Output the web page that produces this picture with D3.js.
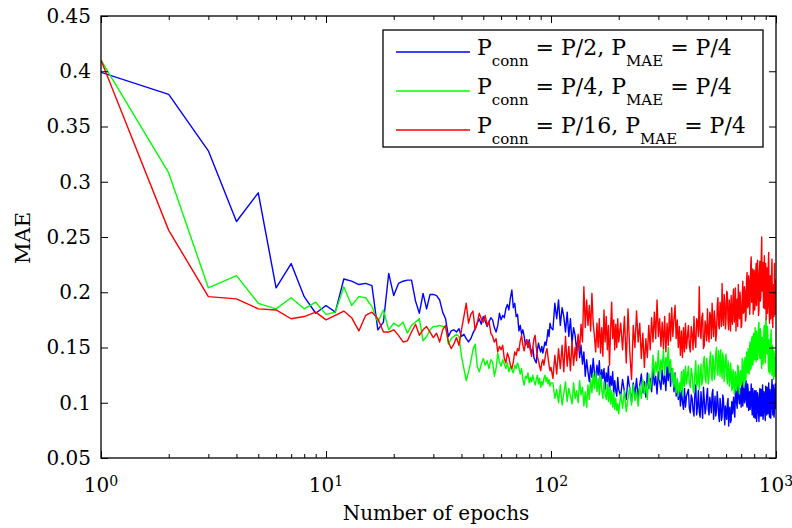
<!DOCTYPE html>
<html>
<head>
<meta charset="utf-8">
<script src="https://cdn.jsdelivr.net/npm/d3@7"></script>
<style>
  html, body { margin: 0; padding: 0; background: #fff; }
  svg { display: block; }
</style>
</head>
<body>
<svg id="chart" width="792" height="528"></svg>
<script>
// Sampled epochs: every epoch up to 100, then coarser steps on the log axis
const epochs = [
  ...d3.range(1, 101),
  ...d3.range(102, 201, 2),
  ...d3.range(204, 401, 4),
  ...d3.range(408, 1001, 4)
];

// MAE for P_conn = P/2
const maeConnHalf = [
  0.399, 0.379, 0.328, 0.264, 0.290, 0.204, 0.226, 0.196, 0.181, 0.188,
  0.182, 0.212, 0.210, 0.207, 0.208, 0.206, 0.166, 0.173, 0.217, 0.197,
  0.208, 0.210, 0.211, 0.211, 0.192, 0.181, 0.199, 0.185, 0.198, 0.198,
  0.197, 0.193, 0.182, 0.176, 0.160, 0.165, 0.166, 0.164, 0.167, 0.160,
  0.162, 0.158, 0.155, 0.158, 0.163, 0.167, 0.172, 0.176, 0.171, 0.178,
  0.174, 0.169, 0.173, 0.177, 0.175, 0.168, 0.164, 0.170, 0.181, 0.175,
  0.179, 0.177, 0.185, 0.189, 0.184, 0.195, 0.202, 0.186, 0.190, 0.178,
  0.180, 0.165, 0.170, 0.162, 0.166, 0.160, 0.152, 0.157, 0.150, 0.157,
  0.149, 0.145, 0.150, 0.141, 0.138, 0.136, 0.148, 0.154, 0.149, 0.146,
  0.151, 0.145, 0.150, 0.155, 0.152, 0.158, 0.166, 0.160, 0.172, 0.168,
  // 102..200
  0.166, 0.190, 0.176, 0.193, 0.170, 0.186, 0.178, 0.164, 0.182, 0.160,
  0.176, 0.154, 0.168, 0.161, 0.147, 0.160, 0.141, 0.152, 0.135, 0.146,
  0.124, 0.139, 0.128, 0.119, 0.134, 0.123, 0.140, 0.127, 0.119, 0.134,
  0.125, 0.138, 0.116, 0.130, 0.122, 0.131, 0.112, 0.127, 0.119, 0.133,
  0.110, 0.124, 0.116, 0.128, 0.108, 0.120, 0.111, 0.106, 0.123, 0.112,
  // 204..400
  0.106, 0.121, 0.110, 0.103, 0.124, 0.112, 0.101, 0.118, 0.107, 0.122,
  0.104, 0.116, 0.126, 0.109, 0.119, 0.105, 0.127, 0.113, 0.122, 0.110,
  0.131, 0.116, 0.124, 0.108, 0.128, 0.119, 0.112, 0.130, 0.117, 0.125,
  0.111, 0.133, 0.120, 0.137, 0.115, 0.131, 0.124, 0.110, 0.127, 0.106,
  0.118, 0.103, 0.115, 0.097, 0.111, 0.101, 0.094, 0.113, 0.096, 0.106,
  // 408..1000
  0.112, 0.095, 0.091, 0.107, 0.104, 0.093, 0.088, 0.109, 0.116, 0.089,
  0.097, 0.111, 0.092, 0.087, 0.110, 0.098, 0.086, 0.114, 0.103, 0.090,
  0.095, 0.106, 0.113, 0.094, 0.089, 0.105, 0.099, 0.091, 0.108, 0.112,
  0.085, 0.096, 0.106, 0.088, 0.093, 0.110, 0.101, 0.089, 0.083, 0.104,
  0.098, 0.084, 0.087, 0.107, 0.103, 0.091, 0.080, 0.097, 0.092, 0.085,
  0.099, 0.104, 0.079, 0.094, 0.096, 0.082, 0.084, 0.101, 0.090, 0.097,
  0.105, 0.092, 0.087, 0.109, 0.112, 0.100, 0.095, 0.116, 0.118, 0.103,
  0.099, 0.113, 0.108, 0.096, 0.122, 0.106, 0.097, 0.119, 0.115, 0.100,
  0.102, 0.114, 0.120, 0.099, 0.096, 0.117, 0.112, 0.093, 0.104, 0.110,
  0.094, 0.106, 0.117, 0.098, 0.089, 0.113, 0.108, 0.087, 0.099, 0.111,
  0.086, 0.097, 0.111, 0.083, 0.092, 0.109, 0.104, 0.090, 0.083, 0.106,
  0.113, 0.088, 0.095, 0.112, 0.088, 0.101, 0.116, 0.085, 0.091, 0.110,
  0.107, 0.093, 0.084, 0.115, 0.101, 0.089, 0.114, 0.096, 0.090, 0.108,
  0.118, 0.094, 0.087, 0.112, 0.105, 0.086, 0.096, 0.113, 0.121, 0.098,
  0.089, 0.116, 0.110, 0.087, 0.093, 0.111, 0.117, 0.095, 0.100
];

// MAE for P_conn = P/4
const maeConnQuarter = [
  0.410, 0.308, 0.204, 0.215, 0.190, 0.185, 0.195, 0.185, 0.191, 0.180,
  0.182, 0.205, 0.188, 0.196, 0.195, 0.187, 0.173, 0.184, 0.166, 0.172,
  0.169, 0.173, 0.163, 0.170, 0.173, 0.176, 0.156, 0.160, 0.166, 0.169,
  0.169, 0.170, 0.169, 0.168, 0.153, 0.158, 0.160, 0.162, 0.160, 0.142,
  0.131, 0.120, 0.128, 0.137, 0.148, 0.153, 0.133, 0.128, 0.135, 0.140,
  0.134, 0.138, 0.131, 0.139, 0.137, 0.124, 0.131, 0.145, 0.137, 0.133,
  0.139, 0.135, 0.131, 0.136, 0.128, 0.133, 0.130, 0.127, 0.134, 0.131,
  0.136, 0.132, 0.126, 0.131, 0.121, 0.116, 0.124, 0.122, 0.127, 0.118,
  0.123, 0.119, 0.125, 0.120, 0.116, 0.121, 0.125, 0.117, 0.122, 0.114,
  0.119, 0.116, 0.122, 0.125, 0.119, 0.123, 0.117, 0.121, 0.115, 0.118,
  // 102..200
  0.118, 0.104, 0.112, 0.100, 0.116, 0.098, 0.108, 0.119, 0.101, 0.113,
  0.106, 0.099, 0.118, 0.104, 0.111, 0.100, 0.120, 0.107, 0.114, 0.097,
  0.110, 0.096, 0.116, 0.103, 0.121, 0.109, 0.126, 0.113, 0.128, 0.110,
  0.122, 0.107, 0.125, 0.112, 0.104, 0.119, 0.108, 0.103, 0.117, 0.101,
  0.114, 0.099, 0.111, 0.096, 0.109, 0.094, 0.104, 0.093, 0.099, 0.090,
  // 204..400
  0.108, 0.095, 0.111, 0.092, 0.104, 0.114, 0.098, 0.116, 0.102, 0.110,
  0.097, 0.115, 0.104, 0.121, 0.108, 0.118, 0.103, 0.126, 0.112, 0.120,
  0.143, 0.124, 0.137, 0.128, 0.147, 0.121, 0.139, 0.130, 0.148, 0.125,
  0.141, 0.133, 0.150, 0.127, 0.139, 0.120, 0.131, 0.114, 0.126, 0.109,
  0.122, 0.106, 0.118, 0.110, 0.128, 0.107, 0.130, 0.115, 0.133, 0.117,
  // 408..1000
  0.133, 0.118, 0.114, 0.131, 0.126, 0.112, 0.109, 0.127, 0.138, 0.115,
  0.119, 0.134, 0.112, 0.124, 0.135, 0.116, 0.121, 0.137, 0.142, 0.123,
  0.118, 0.140, 0.131, 0.117, 0.124, 0.139, 0.146, 0.125, 0.120, 0.143,
  0.137, 0.121, 0.127, 0.145, 0.150, 0.129, 0.125, 0.147, 0.141, 0.124,
  0.148, 0.131, 0.122, 0.145, 0.139, 0.119, 0.128, 0.141, 0.144, 0.123,
  0.117, 0.138, 0.133, 0.115, 0.120, 0.136, 0.129, 0.111, 0.113, 0.130,
  0.127, 0.108, 0.110, 0.128, 0.124, 0.111, 0.115, 0.134, 0.132, 0.113,
  0.108, 0.127, 0.129, 0.116, 0.119, 0.140, 0.137, 0.118, 0.114, 0.136,
  0.141, 0.120, 0.123, 0.146, 0.136, 0.127, 0.149, 0.131, 0.126, 0.152,
  0.155, 0.130, 0.133, 0.158, 0.160, 0.134, 0.138, 0.163, 0.152, 0.139,
  0.168, 0.148, 0.137, 0.165, 0.158, 0.139, 0.145, 0.170, 0.173, 0.146,
  0.140, 0.167, 0.162, 0.138, 0.131, 0.159, 0.156, 0.135, 0.147, 0.168,
  0.170, 0.141, 0.136, 0.172, 0.176, 0.148, 0.144, 0.169, 0.161, 0.135,
  0.128, 0.157, 0.153, 0.126, 0.132, 0.161, 0.166, 0.139, 0.125, 0.152,
  0.149, 0.127, 0.121, 0.147, 0.143, 0.124, 0.130, 0.141, 0.135
];

// MAE for P_conn = P/16
const maeConnSixteenth = [
  0.410, 0.256, 0.196, 0.194, 0.185, 0.184, 0.176, 0.178, 0.182, 0.175,
  0.179, 0.183, 0.177, 0.165, 0.179, 0.182, 0.176, 0.164, 0.164, 0.166,
  0.161, 0.155, 0.156, 0.164, 0.171, 0.161, 0.166, 0.169, 0.164, 0.159,
  0.163, 0.155, 0.166, 0.170, 0.155, 0.149, 0.153, 0.159, 0.152, 0.166,
  0.178, 0.190, 0.172, 0.180, 0.183, 0.166, 0.172, 0.181, 0.176, 0.173,
  0.179, 0.170, 0.174, 0.163, 0.160, 0.155, 0.158, 0.146, 0.151, 0.148,
  0.152, 0.140, 0.136, 0.145, 0.141, 0.134, 0.131, 0.137, 0.146, 0.143,
  0.149, 0.147, 0.156, 0.161, 0.152, 0.147, 0.154, 0.157, 0.150, 0.155,
  0.147, 0.142, 0.150, 0.158, 0.161, 0.150, 0.142, 0.138, 0.133, 0.129,
  0.136, 0.139, 0.134, 0.140, 0.146, 0.149, 0.141, 0.134, 0.129, 0.132,
  // 102..200
  0.122, 0.143, 0.126, 0.149, 0.131, 0.152, 0.128, 0.160, 0.133, 0.151,
  0.129, 0.156, 0.134, 0.150, 0.138, 0.162, 0.147, 0.171, 0.155, 0.205,
  0.168, 0.193, 0.170, 0.188, 0.165, 0.199, 0.172, 0.160, 0.146, 0.172,
  0.150, 0.176, 0.145, 0.168, 0.142, 0.184, 0.155, 0.178, 0.148, 0.170,
  0.134, 0.166, 0.191, 0.158, 0.175, 0.148, 0.171, 0.150, 0.176, 0.155,
  // 204..400
  0.172, 0.148, 0.178, 0.136, 0.185, 0.146, 0.121, 0.170, 0.150, 0.183,
  0.155, 0.172, 0.140, 0.163, 0.132, 0.158, 0.141, 0.170, 0.148, 0.177,
  0.155, 0.182, 0.158, 0.193, 0.160, 0.176, 0.151, 0.173, 0.149, 0.178,
  0.146, 0.172, 0.152, 0.181, 0.156, 0.186, 0.160, 0.176, 0.188, 0.158,
  0.175, 0.150, 0.169, 0.143, 0.165, 0.141, 0.168, 0.146, 0.172, 0.149,
  // 408..1000
  0.170, 0.152, 0.146, 0.169, 0.162, 0.148, 0.178, 0.157, 0.150, 0.176,
  0.173, 0.160, 0.205, 0.166, 0.158, 0.177, 0.181, 0.149, 0.152, 0.174,
  0.168, 0.156, 0.185, 0.163, 0.155, 0.182, 0.179, 0.158, 0.190, 0.171,
  0.160, 0.183, 0.174, 0.156, 0.163, 0.188, 0.195, 0.170, 0.167, 0.191,
  0.186, 0.169, 0.208, 0.178, 0.170, 0.198, 0.192, 0.167, 0.176, 0.201,
  0.199, 0.174, 0.166, 0.193, 0.184, 0.165, 0.197, 0.179, 0.171, 0.195,
  0.203, 0.173, 0.180, 0.204, 0.165, 0.187, 0.194, 0.169, 0.207, 0.185,
  0.176, 0.200, 0.190, 0.168, 0.170, 0.196, 0.210, 0.181, 0.182, 0.205,
  0.201, 0.174, 0.178, 0.211, 0.218, 0.186, 0.188, 0.215, 0.209, 0.180,
  0.195, 0.224, 0.232, 0.191, 0.198, 0.221, 0.180, 0.205, 0.220, 0.184,
  0.190, 0.217, 0.226, 0.188, 0.200, 0.229, 0.214, 0.179, 0.184, 0.219,
  0.228, 0.192, 0.196, 0.231, 0.250, 0.201, 0.205, 0.227, 0.186, 0.212,
  0.233, 0.185, 0.199, 0.226, 0.175, 0.210, 0.222, 0.181, 0.191, 0.224,
  0.236, 0.187, 0.172, 0.213, 0.215, 0.176, 0.183, 0.219, 0.230, 0.174,
  0.168, 0.203, 0.207, 0.178, 0.226, 0.193, 0.180, 0.211, 0.196
];

const seriesNames = ["P/2", "P/4", "P/16"];
const seriesColors = ["#0000ff", "#00ff00", "#ff0000"];
const seriesValues = [maeConnHalf, maeConnQuarter, maeConnSixteenth];

const yTicks = [0.05, 0.1, 0.15, 0.2, 0.25, 0.3, 0.35, 0.4, 0.45];
const xMajorTicks = [1, 10, 100, 1000];
const xExponents = ["0", "1", "2", "3"];

const FONT = '"DejaVu Serif", serif';

const svg = d3.select("#chart");
const plot = { left: 101, top: 16, right: 776, bottom: 458 };

const x = d3.scaleLog().domain([1, 1000]).range([plot.left, plot.right]);
const y = d3.scaleLinear().domain([0.05, 0.45]).range([plot.bottom, plot.top]);

// Data lines
const line = d3.line()
  .x((d, i) => x(epochs[i]))
  .y(d => y(d));

svg.append("clipPath").attr("id", "plot-clip")
  .append("rect")
  .attr("x", plot.left).attr("y", plot.top)
  .attr("width", plot.right - plot.left).attr("height", plot.bottom - plot.top);

const lines = svg.append("g").attr("clip-path", "url(#plot-clip)");
seriesValues.forEach((vals, k) => {
  lines.append("path")
    .datum(vals)
    .attr("fill", "none")
    .attr("stroke", seriesColors[k])
    .attr("stroke-width", 1.4)
    .attr("stroke-linejoin", "round")
    .attr("d", line);
});

// Axes: box with inward ticks on all four sides
const minorTicks = [];
[1, 10, 100].forEach(dec => { for (let m = 2; m <= 9; m++) minorTicks.push(dec * m); });

const majorLen = 7, minorLen = 4;
const fmtY = d => String(+d.toFixed(2));

const xBottom = d3.axisBottom(x).tickValues(xMajorTicks).tickSizeInner(-majorLen).tickSizeOuter(0).tickFormat("");
const xBottomMinor = d3.axisBottom(x).tickValues(minorTicks).tickSizeInner(-minorLen).tickSizeOuter(0).tickFormat("");
const xTop = d3.axisTop(x).tickValues(xMajorTicks).tickSizeInner(-majorLen).tickSizeOuter(0).tickFormat("");
const xTopMinor = d3.axisTop(x).tickValues(minorTicks).tickSizeInner(-minorLen).tickSizeOuter(0).tickFormat("");
const yLeft = d3.axisLeft(y).tickValues(yTicks).tickSizeInner(-majorLen).tickSizeOuter(0).tickFormat(fmtY).tickPadding(10);
const yRight = d3.axisRight(y).tickValues(yTicks).tickSizeInner(-majorLen).tickSizeOuter(0).tickFormat("");

function styleAxis(g) {
  g.attr("font-family", FONT);
  g.select(".domain").remove();
  g.selectAll(".tick line").attr("stroke", "#000").attr("stroke-width", 1);
  g.selectAll("text")
    .attr("font-family", FONT)
    .attr("font-size", 20)
    .attr("fill", "#000");
}

svg.append("g").attr("transform", `translate(0,${plot.bottom})`).call(xBottom).call(styleAxis);
svg.append("g").attr("transform", `translate(0,${plot.bottom})`).call(xBottomMinor).call(styleAxis);
svg.append("g").attr("transform", `translate(0,${plot.top})`).call(xTop).call(styleAxis);
svg.append("g").attr("transform", `translate(0,${plot.top})`).call(xTopMinor).call(styleAxis);
svg.append("g").attr("transform", `translate(${plot.left},0)`).call(yLeft).call(styleAxis);
svg.append("g").attr("transform", `translate(${plot.right},0)`).call(yRight).call(styleAxis);

// Box
svg.append("rect")
  .attr("x", plot.left).attr("y", plot.top)
  .attr("width", plot.right - plot.left).attr("height", plot.bottom - plot.top)
  .attr("fill", "none").attr("stroke", "#000").attr("stroke-width", 1.3);

// Power-of-ten labels under the x axis
const xLabels = svg.append("g").attr("font-family", FONT);
xMajorTicks.forEach((t, i) => {
  const txt = xLabels.append("text")
    .attr("x", x(t)).attr("y", 492)
    .attr("text-anchor", "middle")
    .attr("font-size", 20)
    .attr("fill", "#000");
  txt.append("tspan").text("10");
  txt.append("tspan").attr("font-size", 14).attr("dy", -6).text(xExponents[i]);
});

// Axis titles
svg.append("text")
  .attr("x", 436).attr("y", 520)
  .attr("text-anchor", "middle")
  .attr("font-family", FONT)
  .attr("font-size", 20)
  .attr("fill", "#000")
  .text("Number of epochs");

svg.append("text")
  .attr("transform", "translate(30,238) rotate(-90)")
  .attr("text-anchor", "middle")
  .attr("font-family", FONT)
  .attr("font-size", 21)
  .attr("fill", "#000")
  .text("MAE");

// Legend
const legend = { x: 383, y: 30, w: 380, h: 117 };
svg.append("rect")
  .attr("x", legend.x).attr("y", legend.y)
  .attr("width", legend.w).attr("height", legend.h)
  .attr("fill", "#fff").attr("stroke", "#000").attr("stroke-width", 1.3);

const rowY = [52, 91, 130];
seriesNames.forEach((name, k) => {
  const g = svg.append("g");
  g.append("line")
    .attr("x1", 396).attr("x2", 470)
    .attr("y1", rowY[k]).attr("y2", rowY[k])
    .attr("stroke", seriesColors[k]).attr("stroke-width", 1.4);
  const t = g.append("text")
    .attr("x", 477).attr("y", rowY[k] + 3)
    .attr("font-family", FONT)
    .attr("font-size", 22)
    .attr("fill", "#000");
  t.append("tspan").text("P");
  t.append("tspan").attr("font-size", 15).attr("dy", 11).text("conn");
  t.append("tspan").attr("dy", -11).text(` = ${name}, P`);
  t.append("tspan").attr("font-size", 15).attr("dy", 11).text("MAE");
  t.append("tspan").attr("dy", -11).text(" = P/4");
});
</script>
</body>
</html>
